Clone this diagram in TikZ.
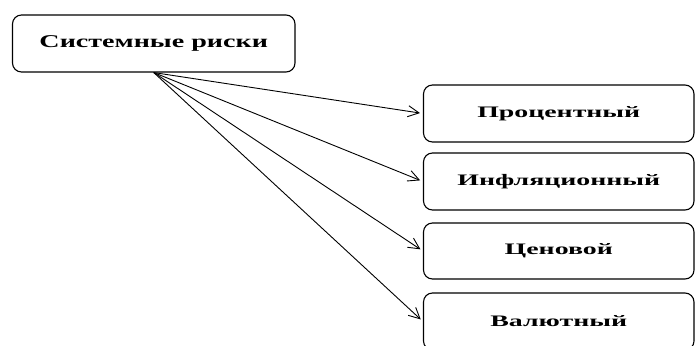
\documentclass[tikz,border=0pt]{standalone}
\usepackage{fontspec}
\setmainfont{Liberation Serif}
\newfontfamily\srcfont[FakeStretch=1.56]{Liberation Serif}
\newfontfamily\kindfont[FakeStretch=1.74]{Liberation Serif}
\usetikzlibrary{arrows.meta}

\tikzset{
    riskbox/.style={draw, rounded corners=9pt, line width=1.1pt,
        inner sep=0pt, font=\kindfont\bfseries\fontsize{16}{18}\selectfont},
    riskarrow/.style={-{Straight Barb[length=11pt,width=11pt]}, line width=0.9pt,
        shorten >=3pt}
}

\begin{document}
\begin{tikzpicture}[x=1pt, y=-1pt]
    \clip (0,0) rectangle (695,345);

    \node[riskbox, minimum width=282.5pt, minimum height=57pt,
        font=\srcfont\bfseries\fontsize{18}{20}\selectfont] (sys) at (153.75,43.5) {Системные риски};

    \node[riskbox, minimum width=270.5pt, minimum height=57pt] (pct) at (558.75,113.5) {Процентный};
    \node[riskbox, minimum width=270.5pt, minimum height=57pt] (infl) at (558.75,181.5) {Инфляционный};
    \node[riskbox, minimum width=270.5pt, minimum height=56pt] (price) at (558.75,251) {Ценовой};
    \node[riskbox, minimum width=270.5pt, minimum height=57pt] (curr) at (558.75,321.5) {Валютный};

    \foreach \t in {pct,infl,price,curr}
        \draw[riskarrow] (sys.south) -- (\t.west);
\end{tikzpicture}
\end{document}
